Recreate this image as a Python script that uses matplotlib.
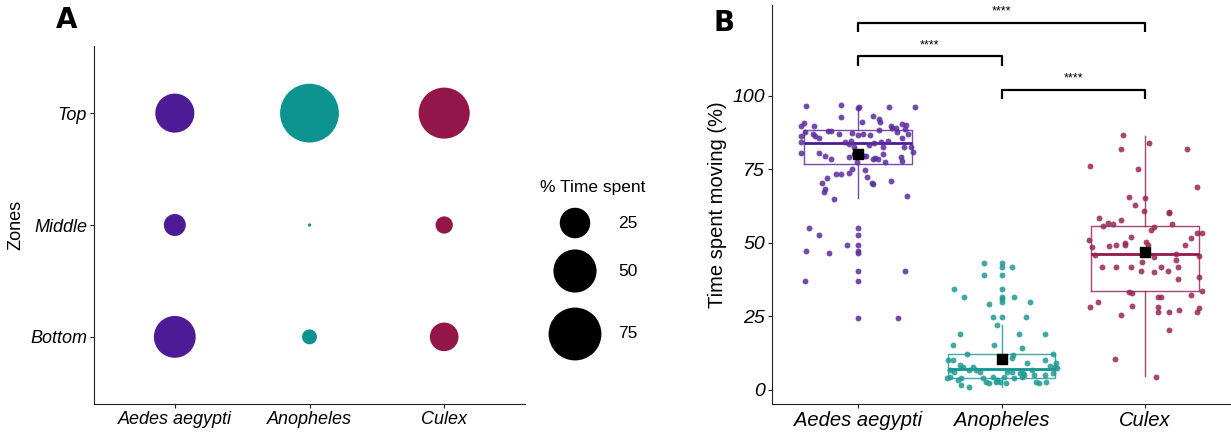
import matplotlib
matplotlib.use('Agg')
import matplotlib.pyplot as plt
import numpy as np

plt.rcParams['font.family'] = ['Liberation Sans', 'DejaVu Sans']

SPECIES = ['Aedes aegypti', 'Anopheles', 'Culex']
ZONES = ['Bottom', 'Middle', 'Top']
COLORS = ['#4d1b95', '#0d9490', '#941649']
POINT_COLORS = ['#5b2d9c', '#1f9a93', '#9a2556']

# % time spent per zone (Bottom, Middle, Top)
pct_aedes = [47, 13, 41]
pct_anopheles = [6, 0.3, 93]
pct_culex = [22, 8, 70]
legend_pct = [25, 50, 75]

# time spent moving: (jitter offset, value)
moving_aedes = [
    (-0.364, 96.5), (-0.117, 96.9), (0.0, 95.7), (0.007, 96.3), (0.215, 96.2), (0.395, 96.0),
    (-0.376, 90.6), (-0.395, 89.7), (-0.304, 89.7), (-0.12, 92.6), (0.024, 91.2), (0.103, 93.0),
    (0.146, 92.0), (0.153, 91.2), (0.227, 89.7), (0.266, 89.0), (0.309, 90.4), (0.335, 90.0),
    (0.330, 88.8), (-0.369, 87.8), (-0.395, 86.3), (-0.311, 87.0), (-0.297, 86.3), (-0.275, 85.7),
    (-0.208, 87.9), (-0.189, 87.9), (-0.136, 86.8), (-0.041, 87.4), (0.002, 86.5), (0.036, 86.8),
    (0.084, 86.6), (0.144, 88.3), (0.235, 89.0), (0.270, 87.5), (0.306, 85.7), (0.349, 87.0),
    (-0.395, 84.4), (-0.40, 80.6), (-0.273, 80.6), (-0.232, 79.5), (-0.189, 78.4), (-0.089, 84.4),
    (-0.065, 83.6), (-0.050, 84.6), (-0.026, 82.7), (0.074, 83.2), (0.110, 84.0), (0.163, 84.4),
    (0.175, 82.7), (0.211, 84.6), (0.323, 82.7), (0.366, 82.7), (0.385, 81.0), (0.302, 79.3),
    (0.309, 77.9), (-0.062, 79.3), (-0.029, 80.1), (0.043, 79.5), (0.057, 79.6), (0.103, 78.4),
    (0.115, 78.9), (0.139, 78.4), (0.175, 80.2), (0.189, 77.4), (-0.005, 77.6), (-0.12, 73.4),
    (-0.06, 73.6), (-0.045, 74.9), (0.045, 74.7), (0.060, 72.5), (0.098, 70.4), (0.103, 70.0),
    (0.232, 71.0), (-0.251, 70.4), (-0.218, 72.1), (-0.239, 67.4), (-0.232, 68.4), (-0.165, 64.9),
    (-0.153, 73.2), (0.342, 65.8),
    (-0.34, 54.9), (-0.27, 52.8), (0.0, 54.9), (0.0, 52.8), (-0.08, 49.2), (-0.36, 47.3),
    (-0.2, 46.4), (0.0, 49.2), (0.0, 47.3), (0.0, 46.4), (0.0, 40.3), (0.33, 40.3),
    (-0.37, 36.9), (0.0, 36.9), (0.0, 24.4), (0.28, 24.4),
]
moving_anopheles = [
    (-0.12, 43.0), (0.0, 43.0), (0.0, 41.6), (0.07, 41.6), (-0.12, 39.1), (0.0, 39.1),
    (-0.33, 34.3), (0.0, 34.3), (-0.26, 31.7), (0.0, 31.7), (0.0, 30.8), (0.0, 29.7),
    (0.09, 31.4), (0.20, 29.9), (-0.09, 29.3), (-0.06, 24.8), (0.0, 24.8), (0.17, 24.8),
    (-0.034, 22.2), (-0.29, 18.9), (0.12, 18.9), (0.30, 18.9), (-0.34, 15.3), (-0.05, 15.1),
    (0.14, 14.3), (-0.24, 12.1), (0.36, 12.2), (-0.37, 10.2), (-0.34, 10.2), (0.07, 10.8),
    (0.08, 11.7), (0.30, 10.0), (0.38, 9.1), (0.37, 7.9), (0.39, 7.4), (0.34, 8.2),
    (-0.29, 8.5), (-0.27, 7.7), (-0.23, 6.8), (-0.20, 7.9), (-0.18, 6.8), (-0.15, 6.2),
    (-0.36, 6.8), (-0.33, 6.2), (-0.38, 4.0), (-0.36, 4.3), (-0.30, 3.4), (-0.28, 4.0),
    (-0.28, 1.7), (-0.23, 1.1), (-0.13, 4.0), (-0.11, 2.8), (-0.09, 2.3), (-0.06, 4.5),
    (-0.04, 2.8), (-0.03, 3.4), (-0.01, 2.8), (0.02, 4.5), (0.04, 6.2), (0.07, 6.2),
    (0.09, 4.0), (0.03, 2.5), (0.13, 5.7), (0.15, 5.7), (0.16, 5.1), (0.14, 4.5),
    (0.18, 9.1), (0.21, 6.8), (0.23, 5.1), (0.24, 2.8), (0.26, 2.3), (0.30, 5.1),
    (0.31, 2.8), (0.36, 5.9),
]
moving_culex = [
    (-0.15, 86.6), (0.03, 83.9), (-0.17, 81.8), (0.29, 81.8), (-0.38, 76.2), (-0.05, 75.2),
    (0.36, 68.9), (-0.11, 65.7), (0.0, 65.3), (-0.07, 62.8), (-0.01, 60.8), (0.17, 60.6),
    (0.17, 60.1), (-0.32, 58.5), (-0.29, 55.8), (-0.26, 56.7), (-0.22, 56.5), (-0.17, 57.8),
    (0.19, 56.4), (0.06, 55.5), (0.04, 54.4), (-0.39, 51.0), (-0.37, 48.7), (-0.10, 51.9),
    (-0.25, 48.9), (-0.20, 49.4), (-0.14, 49.8), (-0.14, 49.2), (0.01, 50.4), (0.02, 49.3),
    (0.32, 51.5), (0.36, 53.4), (0.40, 53.4), (0.28, 49.3), (-0.35, 45.9), (0.06, 45.0),
    (0.22, 46.2), (0.38, 45.5), (0.22, 44.3), (-0.30, 41.7), (-0.20, 41.7), (-0.10, 41.7),
    (-0.03, 40.5), (-0.02, 43.4), (0.06, 39.9), (0.11, 41.7), (0.16, 40.4), (0.23, 41.6),
    (0.23, 37.6), (0.38, 38.2), (0.40, 33.7), (-0.11, 33.2), (-0.09, 32.9), (0.09, 31.4),
    (0.11, 31.7), (0.32, 32.3), (-0.38, 28.2), (-0.33, 29.7), (-0.09, 28.6), (0.09, 28.2),
    (0.09, 26.3), (0.17, 26.5), (0.24, 27.2), (0.38, 27.7), (0.36, 26.5), (-0.17, 25.5),
    (0.17, 20.3), (-0.21, 10.4), (0.08, 4.5),
]

# box summaries: whislo, q1, median, q3, whishi, mean
box_aedes = [65.1, 76.7, 83.8, 88.2, 95.7, 80.0]
box_anopheles = [1.1, 4.2, 7.0, 12.2, 22.1, 10.6]
box_culex = [4.8, 33.7, 46.2, 55.8, 86.4, 46.8]

# significance brackets: (left group, right group, height, label)
comparisons = [(1, 3, 124.8, '****'), (1, 2, 113.3, '****'), (2, 3, 101.9, '****')]

SIZE_PER_PCT = 19.3

fig = plt.figure(figsize=(12.31, 4.32), dpi=100)
W, H = 1231, 432


def px_axes(left, top, right, bottom):
    return fig.add_axes([left / W, 1 - bottom / H, (right - left) / W, (bottom - top) / H])


def style_axes(ax):
    for side in ['top', 'right']:
        ax.spines[side].set_visible(False)
    for side in ['left', 'bottom']:
        ax.spines[side].set_linewidth(0.8)
        ax.spines[side].set_color('#222222')
    ax.tick_params(length=3, width=0.8, color='#222222', pad=2)


# ---- panel A: bubble chart ----
ax1 = px_axes(94, 46, 525, 404)
style_axes(ax1)
for i, pct in enumerate([pct_aedes, pct_anopheles, pct_culex]):
    ax1.scatter([i + 1] * len(ZONES), range(1, len(ZONES) + 1),
                s=np.array(pct) * SIZE_PER_PCT, color=COLORS[i], linewidths=0)
ax1.set_xlim(0.4, 3.6)
ax1.set_ylim(0.4, 3.6)
ax1.set_xticks([1, 2, 3])
ax1.set_xticklabels(SPECIES, fontsize=13, style='italic')
ax1.set_yticks([1, 2, 3])
ax1.set_yticklabels(ZONES, fontsize=13, style='italic')
ax1.set_ylabel('Zones', fontsize=13, labelpad=4)
fig.text(67 / W, 1 - 20 / H, 'A', fontsize=20, fontweight='heavy', ha='center', va='center',
         family='DejaVu Sans')

# size legend
leg = px_axes(530, 170, 660, 370)
leg.set_xlim(0, 130)
leg.set_ylim(200, 0)
leg.axis('off')
leg.text(10, 17, '% Time spent', fontsize=12.5, ha='left', va='center')
leg_y = [53, 101, 164]
leg.scatter([45] * len(legend_pct), leg_y, s=np.array(legend_pct) * SIZE_PER_PCT,
            color='black', linewidths=0, clip_on=False)
for y, v in zip(leg_y, legend_pct):
    leg.text(98, y, str(v), fontsize=12.5, ha='center', va='center')

# ---- panel B: box + jitter ----
ax2 = px_axes(772, 5, 1231, 404)
style_axes(ax2)
groups = [moving_aedes, moving_anopheles, moving_culex]
boxes = [box_aedes, box_anopheles, box_culex]
for i, (pts, bx) in enumerate(zip(groups, boxes)):
    pos = i + 1
    stats = [dict(whislo=bx[0], q1=bx[1], med=bx[2], q3=bx[3], whishi=bx[4], mean=bx[5])]
    ax2.bxp(stats, positions=[pos], widths=0.75, showcaps=False, showfliers=False,
            showmeans=False, patch_artist=False,
            boxprops=dict(color=POINT_COLORS[i], linewidth=1.0, alpha=0.85),
            whiskerprops=dict(color=POINT_COLORS[i], linewidth=1.0, alpha=0.85),
            medianprops=dict(color=COLORS[i], linewidth=2.0))
    xs = [pos + p[0] for p in pts]
    ys = [p[1] for p in pts]
    ax2.scatter(xs, ys, s=18, color=POINT_COLORS[i], alpha=0.85, linewidths=0, zorder=3)
    ax2.scatter([pos], [bx[5]], marker='s', s=50, color='black', zorder=4)

for a, b, h, lab in comparisons:
    ax2.plot([a, a, b, b], [h - 3.1, h, h, h - 3.1], color='black', linewidth=1.6,
             solid_capstyle='butt', clip_on=False)
    ax2.text((a + b) / 2, h + 1.8, lab, fontsize=9, ha='center', va='bottom')

ax2.set_xlim(0.4, 3.6)
ax2.set_ylim(-4.8, 130.8)
ax2.set_xticks([1, 2, 3])
ax2.set_xticklabels(SPECIES, fontsize=14.5, style='italic')
ax2.set_yticks([0, 25, 50, 75, 100])
ax2.set_yticklabels(['0', '25', '50', '75', '100'], fontsize=14, style='italic')
ax2.set_ylabel('Time spent moving (%)', fontsize=14.5, labelpad=4)
fig.text(724 / W, 1 - 23 / H, 'B', fontsize=20, fontweight='heavy', ha='center', va='center',
         family='DejaVu Sans')

fig.savefig('out.png', dpi=100)
